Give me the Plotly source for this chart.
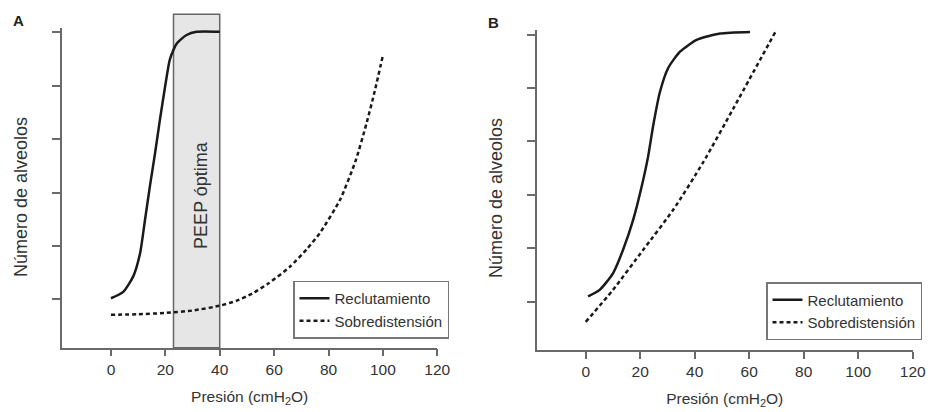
import plotly.graph_objects as go

# ---- data ----
x_ticks = [0, 20, 40, 60, 80, 100, 120]
y_ticks = [1, 2, 3, 4, 5, 6]

recl_a_x = [0, 4.5, 8.2, 10.7, 12.5, 14.3, 16.2, 18.0, 19.9, 21.7, 24.2, 27.8, 31.5, 40]
recl_a_y = [1.02, 1.14, 1.43, 1.86, 2.48, 3.11, 3.73, 4.36, 4.98, 5.50, 5.79, 5.95, 6.01, 6.01]

sobre_a_x = [0, 10, 20, 30, 40, 46, 52, 58, 65.8, 72, 76.8, 84.2, 90, 94, 97, 100]
sobre_a_y = [0.71, 0.72, 0.745, 0.79, 0.88, 0.97, 1.11, 1.30, 1.61, 1.94, 2.24, 2.86, 3.60, 4.30, 4.90, 5.57]

recl_b_x = [0.85, 5.1, 10.0, 13.7, 17.4, 20.5, 22.9, 24.7, 27.2, 30.3, 34.6, 40.7, 49.3, 60.3]
recl_b_y = [1.10, 1.22, 1.53, 1.97, 2.53, 3.15, 3.72, 4.28, 4.92, 5.38, 5.68, 5.90, 6.02, 6.05]

sobre_b_x = [0, 10, 21.1, 32.1, 43, 54.2, 69.6]
sobre_b_y = [0.62, 1.22, 1.97, 2.72, 3.60, 4.62, 6.05]

peep_range = [23, 40]
peep_label = "PEEP óptima"
series_names = ["Reclutamiento", "Sobredistensión"]
y_title = "Número de alveolos"
x_title = "Presión (cmH<sub>2</sub>O)"

# ---- styles ----
FONT = "Liberation Sans, Arial, sans-serif"
TXT = "#333333"
AX = "#6a6a6a"
solid = dict(color="#1a1a1a", width=2.5, shape="spline", smoothing=0.6)
dotted = dict(color="#1a1a1a", width=2.5, dash="4px,3px", shape="spline", smoothing=0.6)

fig = go.Figure()
fig.add_trace(go.Scatter(x=recl_a_x, y=recl_a_y, mode="lines", line=solid, name=series_names[0],
                         xaxis="x", yaxis="y", legend="legend"))
fig.add_trace(go.Scatter(x=sobre_a_x, y=sobre_a_y, mode="lines", line=dotted, name=series_names[1],
                         xaxis="x", yaxis="y", legend="legend"))
fig.add_trace(go.Scatter(x=recl_b_x, y=recl_b_y, mode="lines", line=solid, name=series_names[0],
                         xaxis="x2", yaxis="y2", legend="legend2"))
fig.add_trace(go.Scatter(x=sobre_b_x, y=sobre_b_y, mode="lines", line=dotted, name=series_names[1],
                         xaxis="x2", yaxis="y2", legend="legend2"))

W, H = 930, 412
Y_LO, Y_HI = 0.094, 6.08
PX_PER_Y = 53.4

def xax(dom, anchor):
    return dict(domain=dom, anchor=anchor, range=[-18, 120], tickvals=x_ticks, automargin=False,
                showline=True, linecolor=AX, linewidth=1.5, ticks="outside", ticklen=7,
                tickcolor=AX, tickwidth=1.5, showgrid=False, zeroline=False,
                tickfont=dict(family=FONT, size=15.5, color=TXT),
                title=dict(text=x_title, font=dict(family=FONT, size=15.5, color=TXT),
                           standoff=14))

def yax(dom, anchor):
    return dict(domain=dom, anchor=anchor, range=[Y_LO, Y_HI], tickvals=y_ticks, automargin=False,
                showline=True, linecolor=AX, linewidth=1.5, ticks="outside", ticklen=8,
                tickcolor=AX, tickwidth=1.5, showgrid=False, zeroline=False, showticklabels=False)

def ydom(bottom_px):
    top_px = bottom_px - (Y_HI - Y_LO) * PX_PER_Y
    return [(H - bottom_px) / H, (H - top_px) / H]

def lbl(text, px, py, size=18, angle=0, color=TXT):
    return dict(text=text, x=px / W, y=(H - py) / H, xref="paper", yref="paper",
                xanchor="center", yanchor="middle", textangle=angle, showarrow=False,
                font=dict(family=FONT, size=size, color=color))

fig.update_layout(
    width=W, height=H, margin=dict(l=0, r=0, t=0, b=0, autoexpand=False),
    paper_bgcolor="white", plot_bgcolor="white",
    xaxis=xax([62 / W, 437.3 / W], "y"),
    yaxis=yax(ydom(347.7), "x"),
    xaxis2=xax([536.7 / W, 912.7 / W], "y2"),
    yaxis2=yax(ydom(350.0), "x2"),
    legend=dict(x=293 / W, y=(H - 280.5) / H, xanchor="left", yanchor="top",
                bordercolor="#777777", borderwidth=1.5, bgcolor="white",
                font=dict(family=FONT, size=15, color=TXT)),
    legend2=dict(x=766 / W, y=(H - 282) / H, xanchor="left", yanchor="top",
                 bordercolor="#777777", borderwidth=1.5, bgcolor="white",
                 font=dict(family=FONT, size=15, color=TXT)),
    shapes=[dict(type="rect", xref="x", yref="paper", x0=peep_range[0], x1=peep_range[1],
                 y0=(H - 347.7) / H, y1=(H - 14.3) / H, fillcolor="#e6e6e6",
                 line=dict(color="#666666", width=1.5), layer="below")],
    annotations=[
        dict(text=peep_label, x=(peep_range[0] + peep_range[1]) / 2 + 1.5, y=2.95, xref="x", yref="y",
             xanchor="center", yanchor="middle",
             textangle=-90, showarrow=False, font=dict(family=FONT, size=18, color=TXT)),
        lbl(y_title, 21, 197, angle=-90),
        lbl(y_title, 496, 198, angle=-90),
        lbl("<b>A</b>", 18, 21, size=15, color="#222222"),
        lbl("<b>B</b>", 493, 22.5, size=15, color="#222222"),
    ],
)

fig.write_html("out.html")
